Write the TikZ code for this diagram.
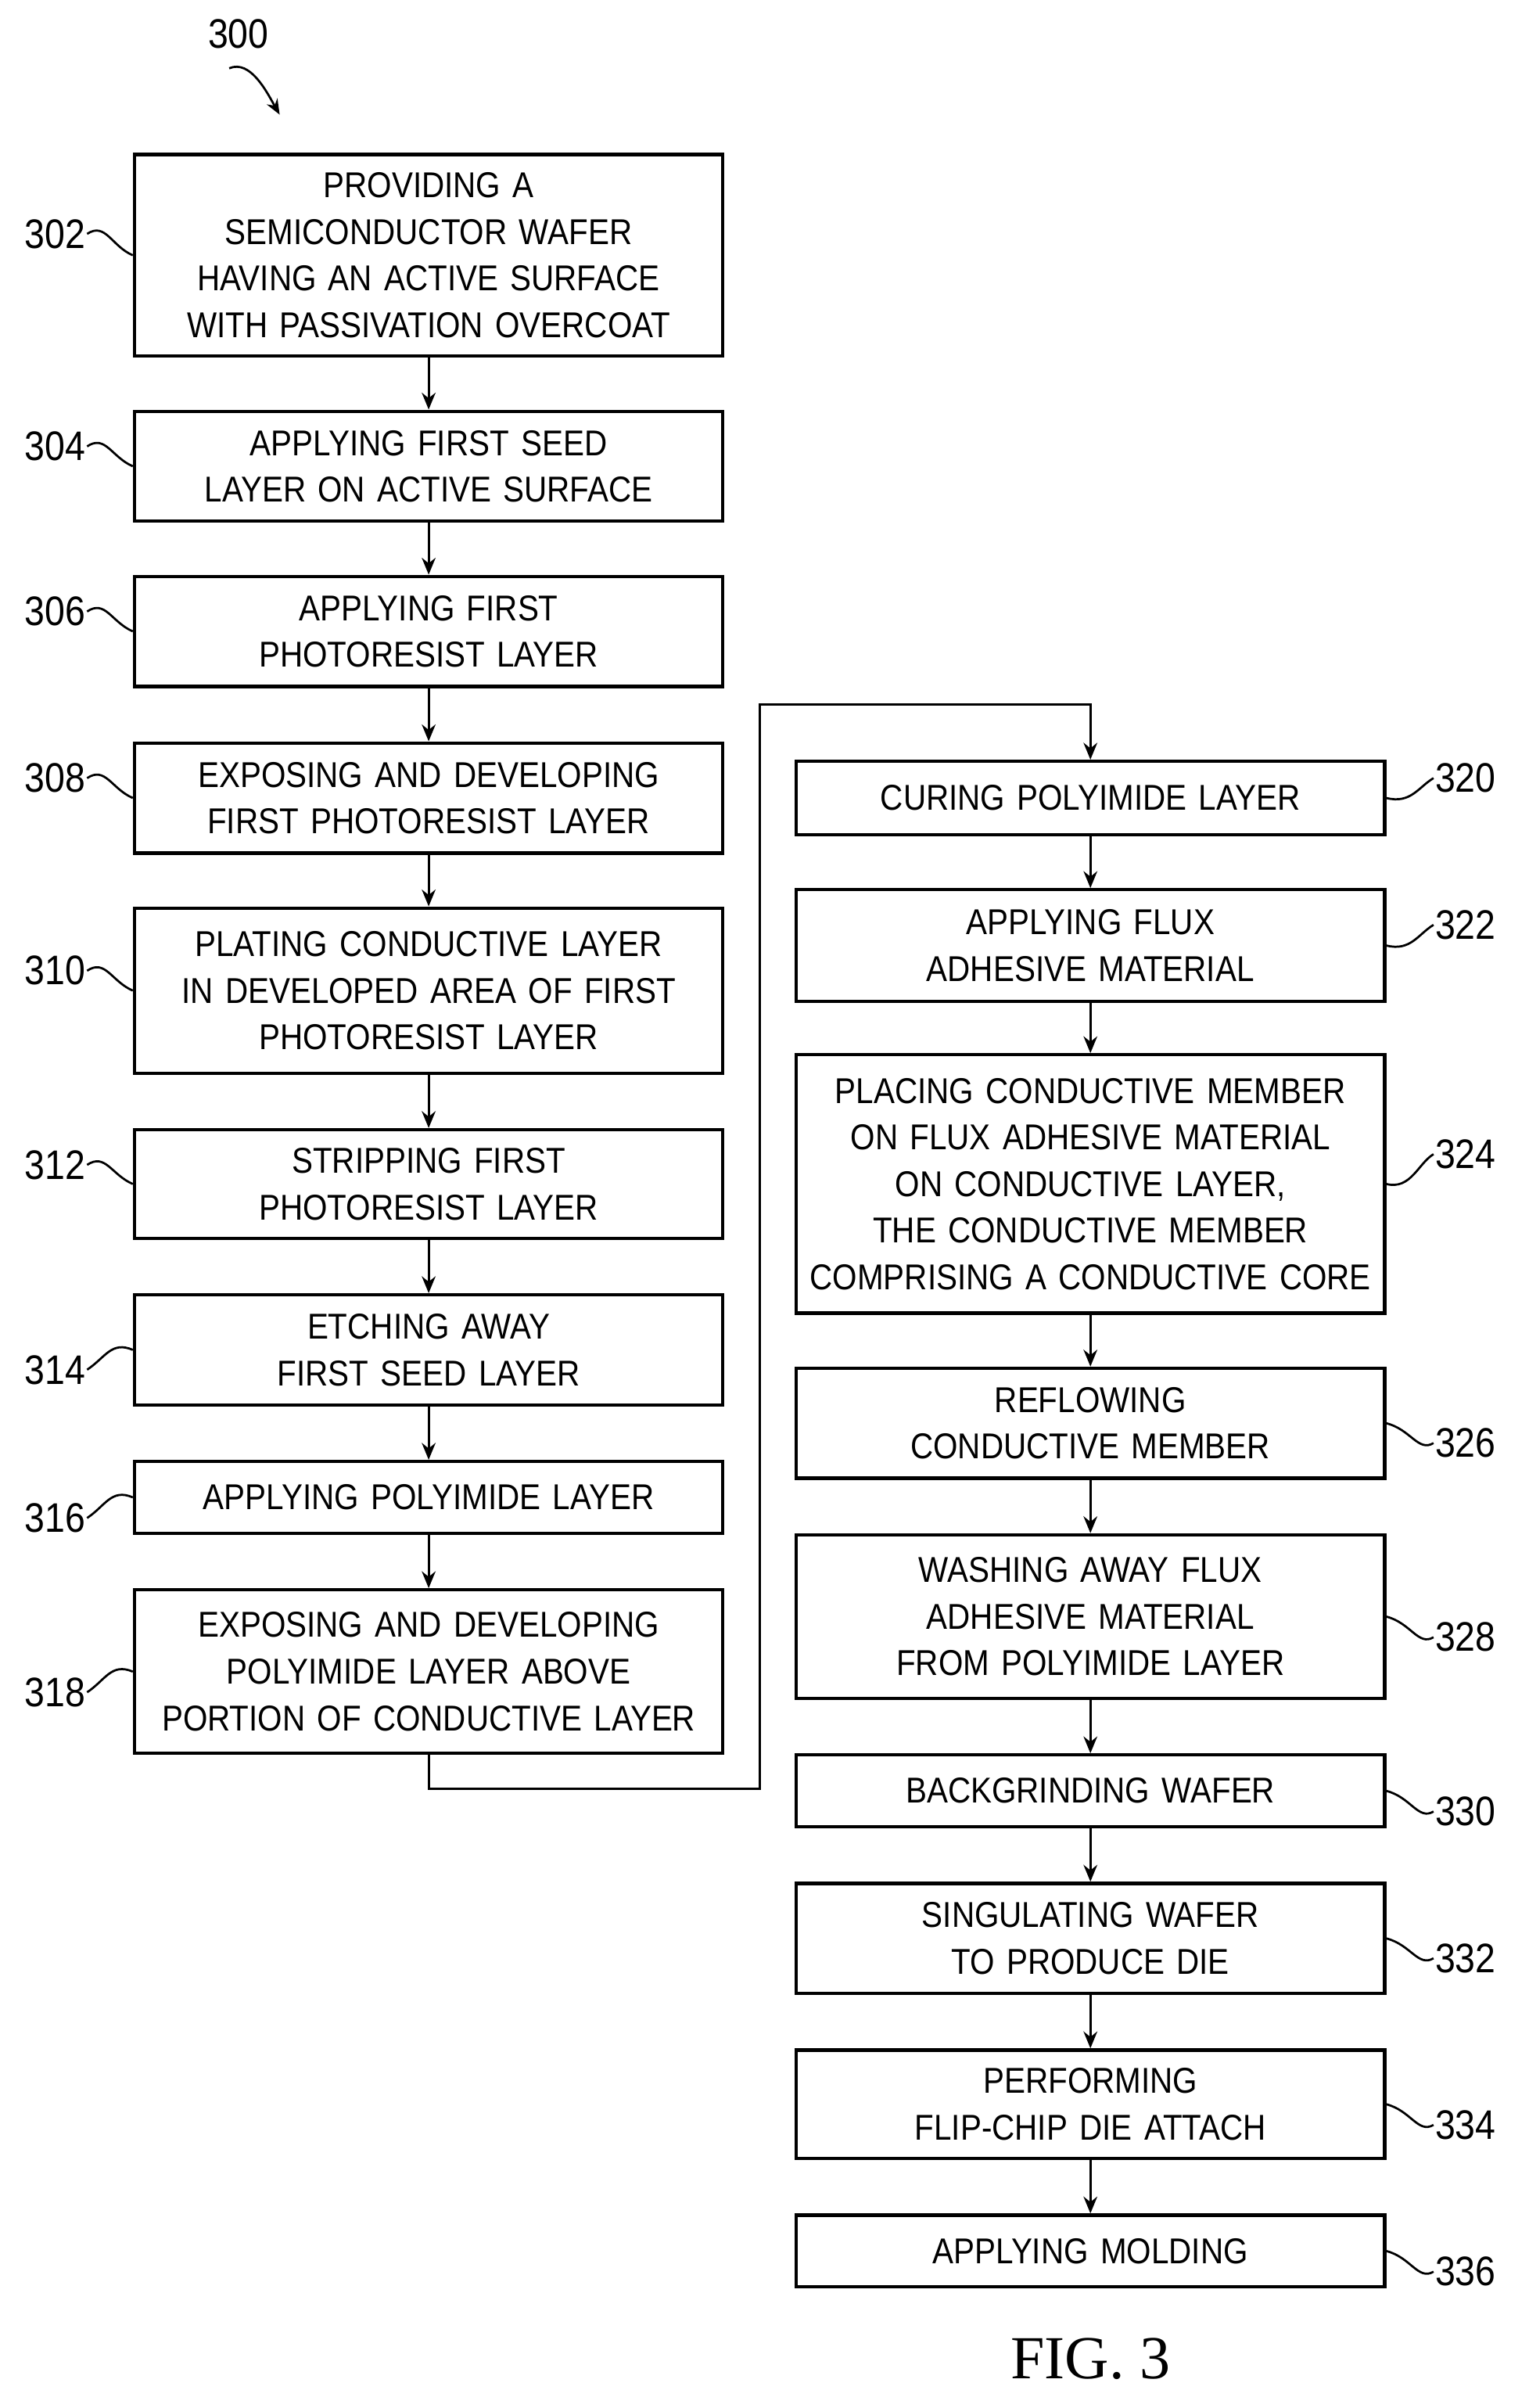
\documentclass[tikz,border=0pt]{standalone}
\usepackage{fontspec}
\setmainfont{Liberation Sans}[FakeStretch=0.88]
\newfontfamily\figfont{Liberation Serif}
\usetikzlibrary{arrows.meta}
\tikzset{every picture/.style={line width=2.2pt}}
\tikzset{
  stepbox/.style={draw, line width=2.2pt, minimum width=385pt, text width=375pt, align=center, inner sep=0pt,
    font=\fontsize{23.5}{30.5}\selectfont},
  num/.style={inner sep=0pt, font=\fontsize{27}{30}\selectfont},
  flow/.style={-{Stealth[length=11pt,width=9pt]}},
  tilde/.style={line width=1.4pt}
}
\begin{document}
\begin{tikzpicture}[x=1pt,y=1pt,yscale=-1,xscale=1]
\useasboundingbox (0,0) rectangle (1000,1575.2);

% left column
\node [stepbox, minimum height=132pt] (b302) at (280.5,167) {PROVIDING A\\SEMICONDUCTOR WAFER\\HAVING AN ACTIVE SURFACE\\WITH PASSIVATION OVERCOAT};
\node [stepbox, minimum height=72pt] (b304) at (280.5,305) {APPLYING FIRST SEED\\LAYER ON ACTIVE SURFACE};
\node [stepbox, minimum height=72pt] (b306) at (280.5,413) {APPLYING FIRST\\PHOTORESIST LAYER};
\node [stepbox, minimum height=72pt] (b308) at (280.5,522) {EXPOSING AND DEVELOPING\\FIRST PHOTORESIST LAYER};
\node [stepbox, minimum height=108pt] (b310) at (280.5,648) {PLATING CONDUCTIVE LAYER\\IN DEVELOPED AREA OF FIRST\\PHOTORESIST LAYER};
\node [stepbox, minimum height=71pt] (b312) at (280.5,774.5) {STRIPPING FIRST\\PHOTORESIST LAYER};
\node [stepbox, minimum height=72pt] (b314) at (280.5,883) {ETCHING AWAY\\FIRST SEED LAYER};
\node [stepbox, minimum height=47pt] (b316) at (280.5,979.5) {APPLYING POLYIMIDE LAYER};
\node [stepbox, minimum height=107pt] (b318) at (280.5,1093.5) {EXPOSING AND DEVELOPING\\POLYIMIDE LAYER ABOVE\\PORTION OF CONDUCTIVE LAYER};

% right column
\node [stepbox, minimum height=48pt] (b320) at (713.5,522) {CURING POLYIMIDE LAYER};
\node [stepbox, minimum height=73pt] (b322) at (713.5,618.5) {APPLYING FLUX\\ADHESIVE MATERIAL};
\node [stepbox, minimum height=169pt] (b324) at (713.5,774.5) {PLACING CONDUCTIVE MEMBER\\ON FLUX ADHESIVE MATERIAL\\ON CONDUCTIVE LAYER,\\THE CONDUCTIVE MEMBER\\COMPRISING A CONDUCTIVE CORE};
\node [stepbox, minimum height=72pt] (b326) at (713.5,931) {REFLOWING\\CONDUCTIVE MEMBER};
\node [stepbox, minimum height=107pt] (b328) at (713.5,1057.5) {WASHING AWAY FLUX\\ADHESIVE MATERIAL\\FROM POLYIMIDE LAYER};
\node [stepbox, minimum height=47pt] (b330) at (713.5,1171.5) {BACKGRINDING WAFER};
\node [stepbox, minimum height=72pt] (b332) at (713.5,1268) {SINGULATING WAFER\\TO PRODUCE DIE};
\node [stepbox, minimum height=71pt] (b334) at (713.5,1376.5) {PERFORMING\\FLIP-CHIP DIE ATTACH};
\node [stepbox, minimum height=47pt] (b336) at (713.5,1472.5) {APPLYING MOLDING};

% arrows
\foreach \a/\b in {302/304,304/306,306/308,308/310,310/312,312/314,314/316,316/318,
  320/322,322/324,324/326,326/328,328/330,330/332,332/334,334/336}
  \draw [flow, line width=1.6pt] (b\a.south) -- (b\b.north);
\coordinate (c1) at (280.5,1170);
\coordinate (c2) at (497,1170);
\coordinate (c3) at (497,461);
\coordinate (c4) at (713.5,461);
\draw [flow, line width=1.6pt] (b318.south) -- (c1) -- (c2) -- (c3) -- (c4) -- (b320.north);

% left reference numbers
\foreach \n/\y in {302/153,304/292,306/400,308/509,310/635,312/762,314/896,316/993,318/1107}{
  \node [num, anchor=east] (l\n) at (57,\y) {\n};
  \draw [tilde] (l\n.east) .. controls +(12,-8) and +(-14,-6) .. (b\n.west);
}
% right reference numbers
\foreach \n/\y in {320/509,322/605,324/755,326/944,328/1071,330/1185,332/1281,334/1390,336/1486}{
  \node [num, anchor=west] (l\n) at (938,\y) {\n};
  \draw [tilde] (b\n.east) .. controls +(16,4) and +(-10,6) .. (l\n.west);
}

% figure number
\node [num] (l300) at (156,22) {300};
\coordinate (t300) at (183,75);
\draw [tilde, -{Stealth[length=10pt,width=8pt]}] (l300.south) ++(-6,12) .. controls +(14,-6) and +(-8,-14) .. (t300);
\node [inner sep=0pt, font=\figfont\fontsize{40}{40}\selectfont] (fig) at (713.5,1543) {FIG. 3};
\end{tikzpicture}
\end{document}
